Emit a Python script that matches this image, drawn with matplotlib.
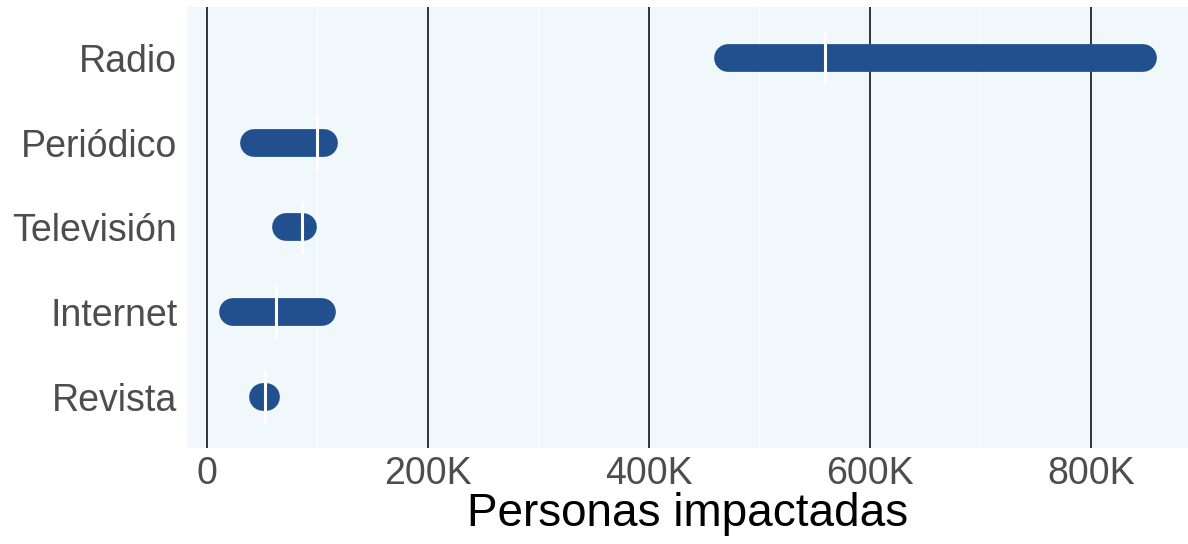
import matplotlib
matplotlib.use("Agg")
import matplotlib.pyplot as plt
from matplotlib.ticker import FuncFormatter, MultipleLocator

# datos: rango y mediana por medio
medios = ["Radio", "Periódico", "Televisión", "Internet", "Revista"]
minimo = [472000, 42500, 71500, 23500, 50700]
maximo = [847000, 106000, 87000, 104000, 53400]
mediana = [559000, 100000, 86000, 63000, 53000]

COLOR_BARRA = "#22508f"
COLOR_FONDO = "#f0f8fb"

plt.rcParams["font.family"] = ["Liberation Sans", "DejaVu Sans"]

fig = plt.figure(figsize=(11.88, 5.44), dpi=100)
ax = fig.add_axes([187 / 1188, 1 - 448 / 544, 1 - 187 / 1188, 441 / 544])
ax.set_facecolor(COLOR_FONDO)

pos = list(range(1, len(medios) + 1))

# rejilla: mayores oscuras, menores blancas
ax.xaxis.set_major_locator(MultipleLocator(200000))
ax.xaxis.set_minor_locator(MultipleLocator(100000))
ax.grid(which="major", axis="x", color="#333333", linewidth=1.4)
ax.grid(which="minor", axis="x", color="white", linewidth=0.9)
ax.set_axisbelow(True)

# barras de rango con extremos redondeados
barras = ax.hlines(pos, minimo, maximo, color=COLOR_BARRA, linewidth=20)
barras.set_capstyle("round")

# marca de la mediana
ax.vlines(mediana, [p - 0.31 for p in pos], [p + 0.31 for p in pos],
          color="white", linewidth=2.2, zorder=4)

ax.set_xlim(-18000, 888000)
ax.set_ylim(5.6, 0.4)
ax.set_yticks(pos)
ax.set_yticklabels(medios)

ax.xaxis.set_major_formatter(
    FuncFormatter(lambda v, _: "0" if v == 0 else f"{int(v / 1000)}K"))

ax.tick_params(axis="both", which="both", length=0, labelsize=27,
               labelcolor="#4d4d4d")
ax.tick_params(axis="y", pad=7)
ax.tick_params(axis="x", pad=6)

ax.set_xlabel("Personas impactadas", fontsize=33, color="black", labelpad=0)

for s in ax.spines.values():
    s.set_visible(False)

fig.savefig("out.png", dpi=100, facecolor="white")
